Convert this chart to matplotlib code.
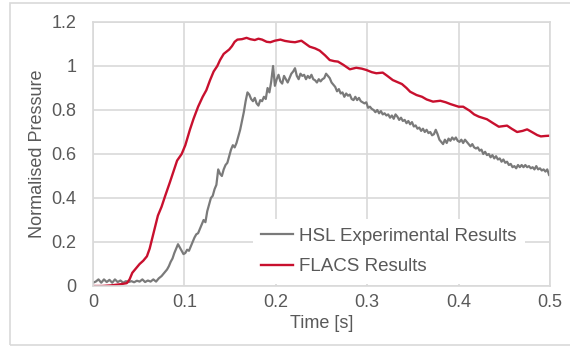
import matplotlib
matplotlib.use("Agg")
import matplotlib.pyplot as plt
from matplotlib.patches import Rectangle

# ── Datos: presión normalizada frente al tiempo ──────────────────────────
# Ensayo HSL (señal medida, con ruido)
HSL_POINTS = [
    (0.000, 0.015), (0.003, 0.020), (0.006, 0.030), (0.009, 0.015), (0.012, 0.030),
    (0.015, 0.018), (0.018, 0.028), (0.021, 0.015), (0.024, 0.030), (0.027, 0.018),
    (0.030, 0.025), (0.033, 0.015), (0.036, 0.022), (0.039, 0.018), (0.042, 0.022),
    (0.045, 0.017), (0.048, 0.024), (0.051, 0.020), (0.054, 0.030), (0.057, 0.018),
    (0.060, 0.025), (0.063, 0.020), (0.066, 0.030), (0.069, 0.020), (0.072, 0.035),
    (0.075, 0.045), (0.078, 0.060), (0.081, 0.075), (0.083, 0.090), (0.085, 0.110),
    (0.087, 0.125), (0.089, 0.150), (0.091, 0.170), (0.093, 0.190), (0.095, 0.175),
    (0.097, 0.160), (0.099, 0.145), (0.101, 0.150), (0.103, 0.165), (0.105, 0.160),
    (0.107, 0.180), (0.109, 0.200), (0.111, 0.220), (0.113, 0.235), (0.115, 0.240),
    (0.117, 0.260), (0.119, 0.280), (0.121, 0.300), (0.123, 0.290), (0.125, 0.340),
    (0.127, 0.370), (0.129, 0.400), (0.131, 0.410), (0.133, 0.440), (0.135, 0.460),
    (0.137, 0.530), (0.139, 0.510), (0.141, 0.500), (0.143, 0.530), (0.145, 0.550),
    (0.147, 0.560), (0.149, 0.590), (0.151, 0.620), (0.153, 0.640), (0.155, 0.630),
    (0.157, 0.650), (0.159, 0.680), (0.161, 0.710), (0.163, 0.750), (0.165, 0.790),
    (0.167, 0.840), (0.169, 0.880), (0.171, 0.870), (0.173, 0.850), (0.175, 0.840),
    (0.177, 0.855), (0.179, 0.830), (0.181, 0.820), (0.183, 0.845), (0.185, 0.840),
    (0.187, 0.860), (0.189, 0.850), (0.191, 0.900), (0.193, 0.880), (0.195, 0.930),
    (0.197, 1.000), (0.199, 0.910), (0.201, 0.940), (0.203, 0.960), (0.205, 0.930),
    (0.207, 0.920), (0.209, 0.955), (0.211, 0.940), (0.213, 0.925), (0.215, 0.945),
    (0.217, 0.965), (0.219, 0.975), (0.221, 0.990), (0.223, 0.955), (0.225, 0.940),
    (0.227, 0.965), (0.229, 0.955), (0.231, 0.960), (0.233, 0.940), (0.235, 0.955),
    (0.237, 0.945), (0.239, 0.960), (0.241, 0.940), (0.243, 0.935), (0.245, 0.925),
    (0.247, 0.940), (0.249, 0.930), (0.251, 0.940), (0.253, 0.945), (0.255, 0.965),
    (0.257, 0.955), (0.259, 0.945), (0.261, 0.925), (0.263, 0.915), (0.265, 0.905),
    (0.267, 0.885), (0.269, 0.895), (0.271, 0.875), (0.273, 0.880), (0.275, 0.860),
    (0.277, 0.875), (0.279, 0.865), (0.281, 0.870), (0.283, 0.850), (0.285, 0.845),
    (0.287, 0.860), (0.289, 0.845), (0.291, 0.855), (0.293, 0.840), (0.295, 0.835),
    (0.297, 0.830), (0.299, 0.835), (0.301, 0.810), (0.303, 0.815), (0.305, 0.805),
    (0.307, 0.800), (0.309, 0.790), (0.311, 0.800), (0.313, 0.785), (0.315, 0.795),
    (0.317, 0.780), (0.319, 0.785), (0.321, 0.775), (0.323, 0.780), (0.325, 0.765),
    (0.327, 0.775), (0.329, 0.760), (0.331, 0.780), (0.333, 0.770), (0.335, 0.755),
    (0.337, 0.765), (0.339, 0.750), (0.341, 0.755), (0.343, 0.740), (0.345, 0.750),
    (0.347, 0.735), (0.349, 0.745), (0.351, 0.725), (0.353, 0.730), (0.355, 0.715),
    (0.357, 0.720), (0.359, 0.705), (0.361, 0.715), (0.363, 0.700), (0.365, 0.710),
    (0.367, 0.695), (0.369, 0.700), (0.371, 0.685), (0.373, 0.690), (0.375, 0.710),
    (0.377, 0.690), (0.379, 0.665), (0.381, 0.655), (0.383, 0.645), (0.385, 0.665),
    (0.387, 0.650), (0.389, 0.670), (0.391, 0.660), (0.393, 0.675), (0.395, 0.665),
    (0.397, 0.675), (0.399, 0.660), (0.401, 0.655), (0.403, 0.665), (0.405, 0.650),
    (0.407, 0.665), (0.409, 0.655), (0.411, 0.645), (0.413, 0.635), (0.415, 0.645),
    (0.417, 0.630), (0.419, 0.625), (0.421, 0.630), (0.423, 0.615), (0.425, 0.620),
    (0.427, 0.600), (0.429, 0.610), (0.431, 0.595), (0.433, 0.600), (0.435, 0.585),
    (0.437, 0.595), (0.439, 0.580), (0.441, 0.590), (0.443, 0.575), (0.445, 0.580),
    (0.447, 0.565), (0.449, 0.575), (0.451, 0.560), (0.453, 0.565), (0.455, 0.550),
    (0.457, 0.555), (0.459, 0.540), (0.461, 0.545), (0.463, 0.535), (0.465, 0.550),
    (0.467, 0.540), (0.469, 0.550), (0.471, 0.540), (0.473, 0.550), (0.475, 0.540),
    (0.477, 0.545), (0.479, 0.535), (0.481, 0.540), (0.483, 0.530), (0.485, 0.545),
    (0.487, 0.530), (0.489, 0.535), (0.491, 0.525), (0.493, 0.530), (0.495, 0.520),
    (0.497, 0.530), (0.499, 0.505),
]

# Simulación FLACS
FLACS_POINTS = [
    (0.000, 0.000), (0.010, 0.000), (0.020, 0.003), (0.030, 0.008), (0.037, 0.013),
    (0.040, 0.030), (0.043, 0.060), (0.046, 0.075), (0.051, 0.100), (0.055, 0.115),
    (0.059, 0.135), (0.062, 0.170), (0.065, 0.220), (0.068, 0.270), (0.071, 0.320),
    (0.075, 0.360), (0.079, 0.410), (0.084, 0.470), (0.088, 0.520), (0.092, 0.570),
    (0.097, 0.600), (0.101, 0.640), (0.106, 0.710), (0.110, 0.760), (0.115, 0.815),
    (0.120, 0.860), (0.124, 0.890), (0.128, 0.935), (0.132, 0.975), (0.136, 1.000),
    (0.139, 1.027), (0.143, 1.055), (0.146, 1.065), (0.149, 1.075), (0.152, 1.090),
    (0.155, 1.110), (0.158, 1.120), (0.163, 1.122), (0.168, 1.128), (0.172, 1.122),
    (0.177, 1.118), (0.181, 1.124), (0.185, 1.120), (0.190, 1.110), (0.194, 1.108),
    (0.199, 1.115), (0.205, 1.120), (0.210, 1.114), (0.216, 1.110), (0.221, 1.108),
    (0.228, 1.115), (0.233, 1.100), (0.237, 1.088), (0.243, 1.080), (0.248, 1.070),
    (0.254, 1.048), (0.259, 1.027), (0.264, 1.022), (0.268, 1.020), (0.274, 1.005),
    (0.281, 0.985), (0.288, 0.992), (0.294, 0.988), (0.299, 0.982), (0.305, 0.972),
    (0.310, 0.967), (0.317, 0.970), (0.322, 0.955), (0.328, 0.936), (0.333, 0.927),
    (0.338, 0.918), (0.343, 0.900), (0.347, 0.883), (0.354, 0.868), (0.360, 0.860),
    (0.365, 0.848), (0.372, 0.838), (0.380, 0.842), (0.386, 0.835), (0.391, 0.827),
    (0.400, 0.815), (0.405, 0.815), (0.412, 0.797), (0.417, 0.780), (0.422, 0.770),
    (0.431, 0.758), (0.437, 0.742), (0.444, 0.724), (0.453, 0.729), (0.458, 0.715),
    (0.464, 0.700), (0.470, 0.705), (0.475, 0.712), (0.481, 0.698), (0.486, 0.686),
    (0.490, 0.680), (0.495, 0.682), (0.499, 0.683),
]

X_TICKS = [0, 0.1, 0.2, 0.3, 0.4, 0.5]
X_LABELS = ["0", "0.1", "0.2", "0.3", "0.4", "0.5"]
Y_TICKS = [0, 0.2, 0.4, 0.6, 0.8, 1, 1.2]
Y_LABELS = ["0", "0.2", "0.4", "0.6", "0.8", "1", "1.2"]

GRAY_LINE = "#7a7a7a"
RED_LINE = "#c8102e"
TEXT = "#595959"
GRID = "#d9d9d9"

plt.rcParams["font.family"] = ["Liberation Sans", "DejaVu Sans"]

hsl_t, hsl_p = zip(*HSL_POINTS)
flacs_t, flacs_p = zip(*FLACS_POINTS)

fig = plt.figure(figsize=(5.70, 3.46), dpi=100)
ax = fig.add_axes([93 / 570, 1 - 286 / 346, 457 / 570, 264 / 346])

ax.plot(hsl_t, hsl_p, color=GRAY_LINE, lw=1.6, label="HSL Experimental Results",
        solid_joinstyle="round")
ax.plot(flacs_t, flacs_p, color=RED_LINE, lw=1.7, label="FLACS Results",
        solid_joinstyle="round")

ax.set_xlim(0, 0.5)
ax.set_ylim(0, 1.2)
ax.set_xticks(X_TICKS)
ax.set_xticklabels(X_LABELS)
ax.set_yticks(Y_TICKS)
ax.set_yticklabels(Y_LABELS)
ax.tick_params(length=0, labelsize=13, colors=TEXT)
ax.tick_params(axis="x", pad=6)
ax.tick_params(axis="y", pad=12)
ax.grid(True, color=GRID, lw=1.2)
ax.set_axisbelow(True)
for s in ax.spines.values():
    s.set_color(GRID)
    s.set_linewidth(1.2)

ax.set_xlabel("Time [s]", fontsize=13, color=TEXT, labelpad=3)
ax.set_ylabel("Normalised Pressure", fontsize=13, color=TEXT, labelpad=4)

leg = ax.legend(loc="lower right", bbox_to_anchor=(0.965, -0.027), fontsize=13.5,
                frameon=True, facecolor="white", edgecolor="none", framealpha=1,
                handlelength=1.7, handletextpad=0.3, borderpad=0.45, labelspacing=0.71,
                fancybox=False)
for txt in leg.get_texts():
    txt.set_color(TEXT)

# marco exterior del gráfico
fig.add_artist(Rectangle((10 / 570, 1 / 346), 1.0, 342 / 346, transform=fig.transFigure,
                         fill=False, edgecolor=GRID, lw=1.2, clip_on=False))

fig.savefig("out.png", dpi=100, facecolor="white")
